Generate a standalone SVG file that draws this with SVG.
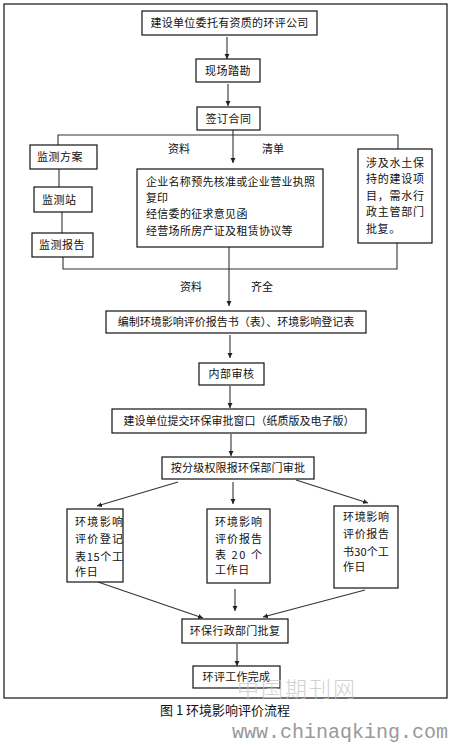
<svg xmlns="http://www.w3.org/2000/svg" width="462" height="745" viewBox="0 0 462 745">
<style>
text{font-family:"Noto Sans CJK SC","Noto Sans",sans-serif;font-size:11px;fill:#111}
.b{fill:#fff;stroke:#111;stroke-width:1.2}
.c{fill:none;stroke:#333;stroke-width:1.1}
.m{text-anchor:middle}
</style>
<defs>
<marker id="a" markerWidth="6" markerHeight="6" refX="5" refY="3" orient="auto" markerUnits="userSpaceOnUse">
<path d="M0,0.5 L5,3 L0,5.5 Z" fill="#222"/>
</marker>
</defs>
<rect x="4" y="4" width="443" height="694" fill="#fff" stroke="#111" stroke-width="1.2"/>
<g id="connectors">
<line class="c" x1="227" y1="37" x2="227" y2="59" marker-end="url(#a)"/>
<line class="c" x1="228" y1="84" x2="228" y2="106" marker-end="url(#a)"/>
<polyline class="c" points="58,145 58,135 398,135 398,149"/>
<line class="c" x1="233" y1="130" x2="233" y2="163" marker-end="url(#a)"/>
<line class="c" x1="59" y1="169" x2="59" y2="187"/>
<line class="c" x1="62" y1="212" x2="62" y2="233"/>
<polyline class="c" points="63,257 63,269 397,269 397,243"/>
<line class="c" x1="229" y1="247" x2="229" y2="306" marker-end="url(#a)"/>
<line class="c" x1="230" y1="335" x2="230" y2="358" marker-end="url(#a)"/>
<line class="c" x1="230" y1="386" x2="230" y2="408" marker-end="url(#a)"/>
<line class="c" x1="231" y1="434" x2="231" y2="456" marker-end="url(#a)"/>
<line class="c" x1="178" y1="482" x2="97" y2="506" marker-end="url(#a)"/>
<line class="c" x1="233" y1="482" x2="233" y2="504" marker-end="url(#a)"/>
<line class="c" x1="296" y1="480" x2="368" y2="503" marker-end="url(#a)"/>
<line class="c" x1="98" y1="582" x2="203" y2="618" marker-end="url(#a)"/>
<line class="c" x1="235" y1="589" x2="235" y2="611" marker-end="url(#a)"/>
<line class="c" x1="365" y1="590" x2="263" y2="617" marker-end="url(#a)"/>
<line class="c" x1="237" y1="644" x2="237" y2="666" marker-end="url(#a)"/>
</g>
<g id="lbl1"><text x="168" y="153">资料</text><text x="262" y="153">清单</text></g>
<g id="lbl2"><text x="180" y="291">资料</text><text x="251" y="291">齐全</text></g>
<g id="n1"><rect class="b" x="142" y="11" width="175" height="24"/><text class="m" x="229.5" y="27" letter-spacing="0.3">建设单位委托有资质的环评公司</text></g>
<g id="n2"><rect class="b" x="196" y="59" width="64" height="23"/><text class="m" x="228" y="75" letter-spacing="0.5">现场踏勘</text></g>
<g id="n3"><rect class="b" x="197" y="107" width="63" height="23"/><text class="m" x="228.5" y="123" letter-spacing="0.5">签订合同</text></g>
<g id="n4"><rect class="b" x="30" y="145" width="67" height="24"/><text x="37" y="161" letter-spacing="0.5">监测方案</text></g>
<g id="n5"><rect class="b" x="34" y="187" width="58" height="25"/><text x="42" y="204" letter-spacing="0.5">监测站</text></g>
<g id="n6"><rect class="b" x="32" y="233" width="61" height="24"/><text x="39" y="249" letter-spacing="0.5">监测报告</text></g>
<g id="n7"><rect class="b" x="137" y="169" width="186" height="78"/>
<text x="146" y="186" textLength="169" lengthAdjust="spacing">企业名称预先核准或企业营业执照</text>
<text x="146" y="202">复印</text>
<text x="146" y="218" letter-spacing="0.3">经信委的征求意见函</text>
<text x="146" y="235" letter-spacing="0.3">经营场所房产证及租赁协议等</text></g>
<g id="n8"><rect class="b" x="358" y="149" width="74" height="94"/>
<text x="366" y="167" textLength="58" lengthAdjust="spacing">涉及水土保</text>
<text x="366" y="183" textLength="58" lengthAdjust="spacing">持的建设项</text>
<text x="366" y="200" textLength="58" lengthAdjust="spacing">目，需水行</text>
<text x="366" y="216" textLength="58" lengthAdjust="spacing">政主管部门</text>
<text x="366" y="233" letter-spacing="0.6">批复。</text></g>
<g id="n9"><rect class="b" x="106" y="311" width="260" height="22"/><text class="m" x="236" y="326">编制环境影响评价报告书（表）、环境影响登记表</text></g>
<g id="n10"><rect class="b" x="199" y="363" width="65" height="22"/><text class="m" x="231.5" y="378" letter-spacing="0.5">内部审核</text></g>
<g id="n11"><rect class="b" x="112" y="409" width="254" height="24"/><text class="m" x="239" y="425">建设单位提交环保审批窗口（纸质版及电子版）</text></g>
<g id="n12"><rect class="b" x="162" y="457" width="152" height="22"/><text class="m" x="238" y="472" letter-spacing="0.2">按分级权限报环保部门审批</text></g>
<g id="n13"><rect class="b" x="67" y="509" width="56" height="73"/>
<text x="75" y="526" textLength="48" lengthAdjust="spacing">环境影响</text>
<text x="75" y="543" textLength="48" lengthAdjust="spacing">评价登记</text>
<text x="75" y="561" textLength="48" lengthAdjust="spacing">表15个工</text>
<text x="75" y="576" letter-spacing="0.8">作日</text></g>
<g id="n14"><rect class="b" x="207" y="509" width="63" height="74"/>
<text x="215" y="526" textLength="47" lengthAdjust="spacing">环境影响</text>
<text x="215" y="543" textLength="47" lengthAdjust="spacing">评价报告</text>
<text x="215" y="559" textLength="47" lengthAdjust="spacing">表 20 个</text>
<text x="215" y="574" letter-spacing="0.6">工作日</text></g>
<g id="n15"><rect class="b" x="334" y="506" width="64" height="82"/>
<text x="343" y="521" textLength="46" lengthAdjust="spacing">环境影响</text>
<text x="343" y="538" textLength="46" lengthAdjust="spacing">评价报告</text>
<text x="343" y="556" textLength="46" lengthAdjust="spacing">书30个工</text>
<text x="343" y="571" letter-spacing="0.6">作日</text></g>
<g id="n16"><rect class="b" x="182" y="619" width="106" height="24"/><text class="m" x="235" y="635" letter-spacing="0.3">环保行政部门批复</text></g>
<g id="n17"><rect class="b" x="193" y="666" width="87" height="22"/><text class="m" x="236.5" y="681" letter-spacing="0.3">环评工作完成</text></g>
<text x="237" y="697" style="font-family:'Noto Sans CJK SC',sans-serif;font-size:22px;font-weight:300;fill:#c4c4c4;opacity:0.75" letter-spacing="2">中国期刊网</text>
<text class="m" x="225" y="715" style="font-family:'Noto Sans CJK SC',serif;font-size:13px;fill:#111">图 1  环境影响评价流程</text>
<text x="232" y="738" style="font-family:'Liberation Mono',monospace;font-size:20px;fill:#999">www.chinaqking.com</text>
</svg>
